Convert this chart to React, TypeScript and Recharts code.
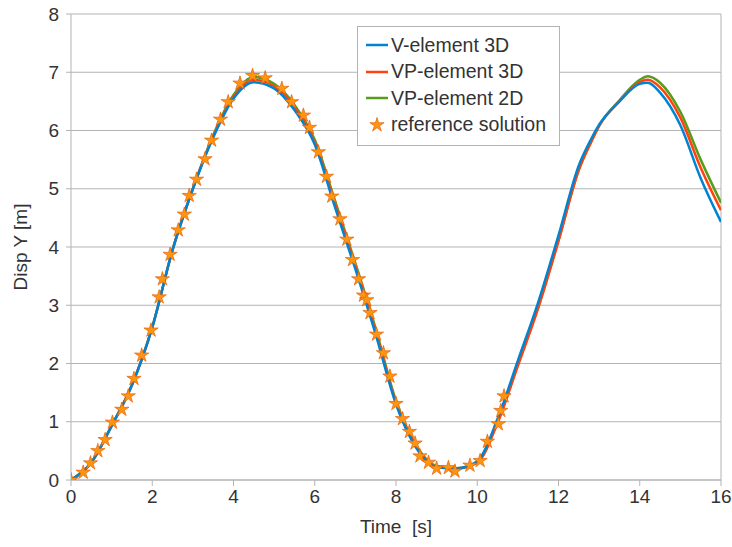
import React from 'react';
import {
  ComposedChart,
  Line,
  XAxis,
  YAxis,
  CartesianGrid,
  ReferenceLine,
  Label,
} from 'recharts';

// Time samples [s] for the three simulated curves
const TIMES = [
  0, 0.5, 1, 1.5, 2, 2.5, 3, 3.5, 4, 4.5, 5, 5.5, 6, 6.5, 7, 7.5, 8, 8.5, 9, 9.5, 10,
  10.5, 11, 11.5, 12, 12.5, 12.8, 13, 13.5, 14, 14.2, 14.5, 15, 15.5, 16,
];

// Disp Y [m]
const V_ELEMENT_3D = [
  0, 0.3, 0.93, 1.63, 2.62, 3.95, 5.0, 5.88, 6.55, 6.83, 6.72, 6.35, 5.76, 4.68, 3.62, 2.5,
  1.3, 0.55, 0.22, 0.2, 0.32, 1.05, 2.05, 3.05, 4.2, 5.4, 5.85, 6.1, 6.5, 6.8, 6.82, 6.65,
  6.09, 5.18, 4.43,
];
const VP_ELEMENT_3D = [
  0, 0.3, 0.93, 1.63, 2.62, 3.95, 5.0, 5.9, 6.58, 6.87, 6.76, 6.4, 5.8, 4.74, 3.67, 2.55,
  1.33, 0.57, 0.23, 0.2, 0.3, 0.98, 1.96, 2.95, 4.1, 5.32, 5.8, 6.08, 6.5, 6.83, 6.87, 6.74,
  6.22, 5.36, 4.63,
];
const VP_ELEMENT_2D = [
  0, 0.3, 0.93, 1.63, 2.62, 3.95, 5.0, 5.92, 6.61, 6.92, 6.8, 6.44, 5.84, 4.79, 3.72, 2.6,
  1.36, 0.59, 0.24, 0.2, 0.3, 1.0, 1.98, 2.97, 4.12, 5.33, 5.8, 6.08, 6.52, 6.87, 6.93, 6.82,
  6.32, 5.5, 4.76,
];

// reference solution (time, disp)
const REF_T = [
  0, 0.3, 0.48, 0.66, 0.84, 1.02, 1.25, 1.41, 1.55, 1.74, 1.97, 2.17, 2.25, 2.44, 2.64, 2.79,
  2.91, 3.09, 3.3, 3.46, 3.68, 3.87, 4.16, 4.47, 4.78, 5.19, 5.43, 5.72, 5.87, 6.09, 6.29,
  6.42, 6.62, 6.79, 6.93, 7.08, 7.2, 7.28, 7.36, 7.52, 7.69, 7.85, 8.0, 8.16, 8.33, 8.47,
  8.59, 8.8, 9.0, 9.29, 9.45, 9.82, 10.07, 10.25, 10.52, 10.58, 10.66,
];
const REF_Y = [
  0, 0.13, 0.29, 0.5, 0.69, 0.99, 1.21, 1.44, 1.74, 2.14, 2.57, 3.14, 3.45, 3.87, 4.29, 4.56,
  4.88, 5.16, 5.51, 5.83, 6.19, 6.49, 6.81, 6.94, 6.9, 6.72, 6.49, 6.26, 6.05, 5.63, 5.21,
  4.87, 4.48, 4.13, 3.78, 3.45, 3.17, 3.09, 2.87, 2.5, 2.18, 1.78, 1.31, 1.05, 0.83, 0.63,
  0.41, 0.3, 0.2, 0.21, 0.15, 0.25, 0.33, 0.66, 0.96, 1.19, 1.44,
];

const X_TICKS = [0, 2, 4, 6, 8, 10, 12, 14, 16];
const Y_TICKS = [0, 1, 2, 3, 4, 5, 6, 7, 8];

const BLUE = '#0084d1';
const RED = '#ff420e';
const GREEN = '#579d1c';
const STAR = '#ff950e';
const STAR_EDGE = '#e5600a';
const GRID = '#b3b3b3';
const TEXT = '#333333';
const FONT = '"Liberation Sans", Arial, sans-serif';

const toSeries = (vals: number[]) => TIMES.map((t, i) => ({ t, v: vals[i] }));
const refData = REF_T.map((t, i) => ({ t, v: REF_Y[i] }));

const starPath = (cx: number, cy: number, ro: number, ri: number) => {
  let d = '';
  for (let k = 0; k < 10; k++) {
    const r = k % 2 === 0 ? ro : ri;
    const a = -Math.PI / 2 + (k * Math.PI) / 5;
    d += `${k === 0 ? 'M' : 'L'}${(cx + r * Math.cos(a)).toFixed(2)},${(cy + r * Math.sin(a)).toFixed(2)}`;
  }
  return d + 'Z';
};

const StarDot = (props: any) => {
  const { cx, cy, index } = props;
  if (cx == null || cy == null) return <g key={index} />;
  return <path key={index} d={starPath(cx, cy, 7.5, 2.7)} fill={STAR} stroke={STAR_EDGE} strokeWidth={0.7} />;
};

const LEGEND = [
  { name: 'V-element 3D', color: BLUE },
  { name: 'VP-element 3D', color: RED },
  { name: 'VP-element 2D', color: GREEN },
  { name: 'reference solution', color: null },
];

const ChartLegend = () => (
  <div
    style={{
      position: 'absolute',
      left: 357,
      top: 26,
      width: 201,
      height: 118,
      background: '#fff',
      border: `1px solid ${GRID}`,
      fontFamily: FONT,
      fontSize: 19.5,
      color: TEXT,
    }}
  >
    {LEGEND.map((item, i) => (
      <div
        key={item.name}
        style={{ position: 'absolute', left: 0, top: 5 + i * 26.5, height: 26, display: 'flex', alignItems: 'center' }}
      >
        <svg width={33} height={26} style={{ display: 'block' }}>
          {item.color ? (
            <line x1={8} x2={30} y1={13} y2={13} stroke={item.color} strokeWidth={2.5} />
          ) : (
            <path d={starPath(19, 13, 7.5, 2.7)} fill={STAR} stroke={STAR_EDGE} strokeWidth={0.7} />
          )}
        </svg>
        <span style={{ whiteSpace: 'nowrap' }}>{item.name}</span>
      </div>
    ))}
  </div>
);

export default function App() {
  const tickStyle = { fontSize: 19, fill: TEXT, fontFamily: FONT };
  return (
    <div style={{ position: 'absolute', left: 0, top: 0, width: 732, height: 547, background: '#fff' }}>
      <ComposedChart width={732} height={547} margin={{ top: 14, right: 11, bottom: 37, left: 0 }}>
        <CartesianGrid horizontal vertical={false} stroke={GRID} strokeWidth={1} />
        <XAxis
          type="number"
          dataKey="t"
          domain={[0, 16]}
          ticks={X_TICKS}
          allowDataOverflow
          height={30}
          tick={tickStyle}
          tickSize={6}
          tickMargin={4}
          axisLine={{ stroke: GRID }}
          tickLine={{ stroke: GRID }}
        >
          <Label
            value={'Time\u00a0 [s]'}
            position="bottom"
            offset={10}
            style={{ fontSize: 19, fill: TEXT, fontFamily: FONT }}
          />
        </XAxis>
        <YAxis
          type="number"
          dataKey="v"
          domain={[0, 8]}
          ticks={Y_TICKS}
          allowDataOverflow
          width={71}
          tick={tickStyle}
          tickSize={5}
          tickMargin={7}
          axisLine={{ stroke: GRID }}
          tickLine={{ stroke: GRID }}
        >
          <Label
            value="Disp Y [m]"
            angle={-90}
            position="insideLeft"
            offset={20}
            style={{ fontSize: 19, fill: TEXT, fontFamily: FONT, textAnchor: 'middle' }}
          />
        </YAxis>
        <ReferenceLine x={16} stroke={GRID} />
        <Line
          data={refData}
          dataKey="v"
          stroke="none"
          dot={<StarDot />}
          activeDot={false}
          isAnimationActive={false}
        />
        <Line data={toSeries(VP_ELEMENT_2D)} dataKey="v" type="monotone" stroke={GREEN} strokeWidth={2.5} dot={false} isAnimationActive={false} />
        <Line data={toSeries(VP_ELEMENT_3D)} dataKey="v" type="monotone" stroke={RED} strokeWidth={2.5} dot={false} isAnimationActive={false} />
        <Line data={toSeries(V_ELEMENT_3D)} dataKey="v" type="monotone" stroke={BLUE} strokeWidth={2.5} dot={false} isAnimationActive={false} />
      </ComposedChart>
      <ChartLegend />
    </div>
  );
}
